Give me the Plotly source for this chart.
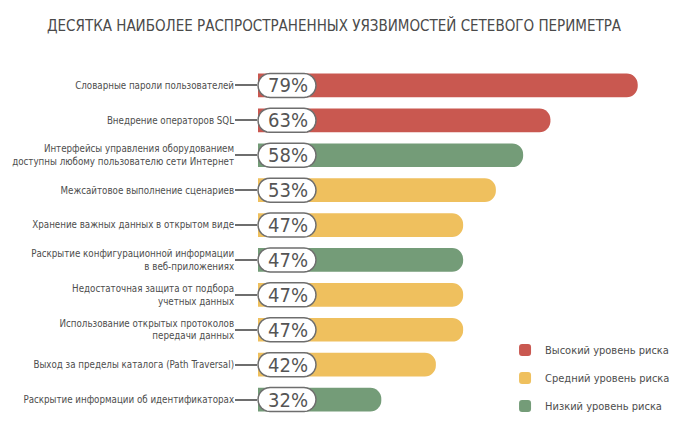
import math
import plotly.graph_objects as go

categories = [
    "Словарные пароли пользователей",
    "Внедрение операторов SQL",
    "Интерфейсы управления оборудованием<br>доступны любому пользователю сети Интернет",
    "Межсайтовое выполнение сценариев",
    "Хранение важных данных в открытом виде",
    "Раскрытие конфигурационной информации<br>в веб-приложениях",
    "Недостаточная защита от подбора<br>учетных данных",
    "Использование открытых протоколов<br>передачи данных",
    "Выход за пределы каталога (Path Traversal)",
    "Раскрытие информации об идентификаторах",
]
values = [79, 63, 58, 53, 47, 47, 47, 47, 42, 32]
risk = ["high", "high", "low", "medium", "medium", "low", "medium", "medium", "medium", "low"]

risk_names = {"high": "Высокий уровень риска", "medium": "Средний уровень риска", "low": "Низкий уровень риска"}
risk_colors = {"high": "#c95850", "medium": "#efc05e", "low": "#749c78"}
title_text = "ДЕСЯТКА НАИБОЛЕЕ РАСПРОСТРАНЕННЫХ УЯЗВИМОСТЕЙ СЕТЕВОГО ПЕРИМЕТРА"

FONT = "DejaVu Sans Condensed, Liberation Sans Narrow, Roboto, sans-serif"
TEXT = "#4d4d4d"

fig = go.Figure()
for key in ["high", "medium", "low"]:
    ys = [c for c, r in zip(categories, risk) if r == key]
    xs = [v for v, r in zip(values, risk) if r == key]
    fig.add_trace(go.Bar(
        x=xs, y=ys, orientation="h", name=risk_names[key],
        marker=dict(color=risk_colors[key], line=dict(width=0)),
        width=0.68, legendgroup=key, hoverinfo="skip",
    ))

# pill outline (pixel-sized rounded rectangle), built as a polygon
W, H = 58, 24
R = H / 2
pts = []
for k in range(13):
    a = -math.pi / 2 + math.pi * k / 12
    pts.append((W - R + R * math.cos(a), R * math.sin(a)))
for k in range(13):
    a = math.pi / 2 + math.pi * k / 12
    pts.append((R + R * math.cos(a), R * math.sin(a)))
pill = "M " + " L ".join(f"{x:.2f},{y:.2f}" for x, y in pts) + " Z"

for c, v in zip(categories, values):
    fig.add_shape(type="path", xref="paper", yref="y", xsizemode="pixel", ysizemode="pixel",
                  xanchor=0, yanchor=c, path=pill, fillcolor="white",
                  line=dict(color="#6e6e6e", width=1.5), layer="above")
    fig.add_annotation(x=0, xref="paper", y=c, yref="y", text=f"{v}%", showarrow=False,
                       xanchor="center", xshift=W / 2 + 1, yshift=0,
                       font=dict(family=FONT, size=20, color="#555555"))

# page body adds an 8px offset, so the figure is 8px smaller and shifted
fig.update_layout(
    width=680, height=420,
    margin=dict(l=250, r=23, t=60, b=8),
    paper_bgcolor="white", plot_bgcolor="white",
    barmode="overlay", barcornerradius=12,
    font=dict(family=FONT, color=TEXT, size=11),
    title=dict(text=title_text, x=0.0574, xanchor="left", y=0.957, yanchor="middle",
               font=dict(family=FONT, size=15, color="#4a4a4a")),
    legend=dict(x=0.607, xanchor="left", y=-0.01, yanchor="bottom", bgcolor="rgba(0,0,0,0)",
                font=dict(family=FONT, size=11, color=TEXT), tracegroupgap=9,
                itemwidth=30),
    showlegend=True,
)
fig.update_xaxes(range=[9.4, 84], showgrid=False, zeroline=False, showticklabels=False,
                 showline=False)
fig.update_yaxes(categoryorder="array", categoryarray=categories, autorange="reversed",
                 ticks="outside", ticklen=22, tickcolor="#6e6e6e", tickwidth=1.5,
                 showline=False, showgrid=False, ticklabelstandoff=-1, automargin=False,
                 tickfont=dict(family=FONT, size=9.7, color=TEXT))

fig.write_html("out.html")
